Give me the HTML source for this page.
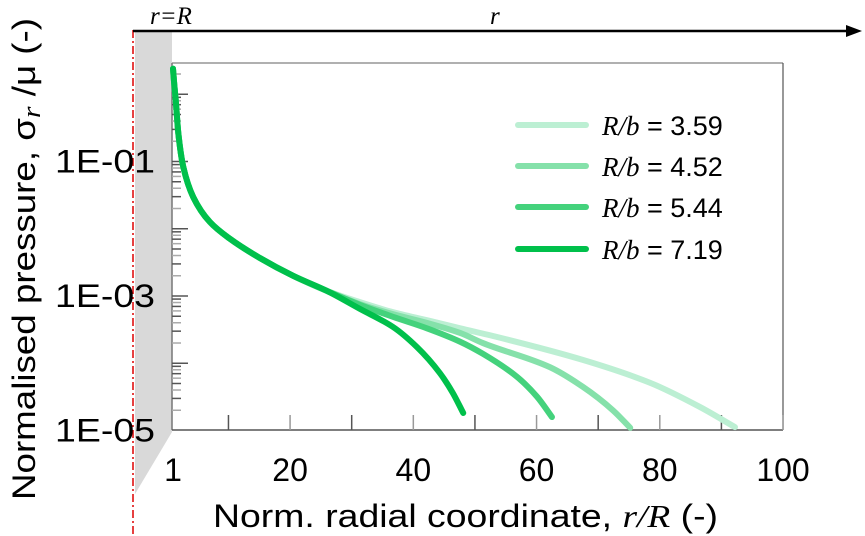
<!DOCTYPE html>
<html><head><meta charset="utf-8"><style>
html,body{margin:0;padding:0;background:#fff;}
svg{display:block;}
text{font-family:"Liberation Sans",sans-serif;fill:#000;}
.it{font-family:"Liberation Serif",serif;font-style:italic;}
</style></head><body>
<svg id="chart" width="865" height="536" viewBox="0 0 865 536">
  <polygon points="135,30 172,30 172,432 135,494" fill="#d9d9d9"/>
  <line x1="133" y1="30" x2="133" y2="536" stroke="#d00" stroke-width="1.5" stroke-dasharray="8,3,2,3"/>
  <line x1="133" y1="31" x2="850" y2="31" stroke="#000" stroke-width="2.5"/>
  <polygon points="862,31 846,25 846,37" fill="#000"/>
  <text x="150" y="24" class="it" font-size="25">r=R</text>
  <text x="490" y="24" class="it" font-size="25">r</text>
  <line x1="172" y1="63" x2="783" y2="63" stroke="#b0b0b0" stroke-width="2"/>
  <line x1="783" y1="63" x2="783" y2="430" stroke="#555" stroke-width="1.2"/>
  <line x1="172" y1="63" x2="172" y2="430" stroke="#777" stroke-width="1.5"/>
  <line x1="172" y1="430" x2="783" y2="430" stroke="#555" stroke-width="1.5"/>
  <g id="ticks"></g>
  <g id="series"></g>
  <g>
    <line x1="518" y1="125" x2="586" y2="125" stroke="#bcefd3" stroke-width="6" stroke-linecap="round"/>
    <text x="602" y="135" font-size="27"><tspan class="it">R/b</tspan> = 3.59</text>
    <line x1="518" y1="166" x2="586" y2="166" stroke="#85e1aa" stroke-width="6" stroke-linecap="round"/>
    <text x="602" y="176" font-size="27"><tspan class="it">R/b</tspan> = 4.52</text>
    <line x1="518" y1="207" x2="586" y2="207" stroke="#44d27c" stroke-width="6" stroke-linecap="round"/>
    <text x="602" y="217" font-size="27"><tspan class="it">R/b</tspan> = 5.44</text>
    <line x1="518" y1="249" x2="586" y2="249" stroke="#00c04b" stroke-width="6" stroke-linecap="round"/>
    <text x="602" y="259" font-size="27"><tspan class="it">R/b</tspan> = 7.19</text>
  </g>
  <text x="213" y="527" font-size="32" textLength="505" lengthAdjust="spacingAndGlyphs">Norm. radial coordinate, <tspan class="it">r/R</tspan> (-)</text>
  <text transform="translate(35,500) rotate(-90)" font-size="32" textLength="482" lengthAdjust="spacingAndGlyphs">Normalised pressure, σ<tspan class="it" font-size="26" dy="5">r</tspan><tspan dy="-5"> /μ (-)</tspan></text>
</svg>
<script>
const xTicks=[1,20,40,60,80,100];
const yTickLabels=["1E-01","1E-03","1E-05"];
const yTickValues=[1e-1,1e-3,1e-5];
const seriesNames=["3.59","4.52","5.44","7.19"];
const seriesColors=["#bcefd3","#85e1aa","#44d27c","#00c04b"];
// log10 of normalised pressure
const commonR=[1,1.2,1.44,1.86,2.67,4.29,6.99,10.25,15.1,20.5,26.0];
const commonLog=[0.38,0.15,-0.085,-0.576,-1.08,-1.53,-1.90,-2.15,-2.435,-2.70,-2.925];
const r359=[31.3,36.7,42.2,47.6,53.6,67.5,78.4,86.5,92.2];
const log359=[-3.09,-3.24,-3.36,-3.48,-3.61,-3.95,-4.29,-4.65,-4.95];
const r452=[31.3,36.7,42.2,47.6,51.3,62.2,67.5,72.4,75.2];
const log452=[-3.12,-3.27,-3.40,-3.55,-3.70,-4.06,-4.35,-4.70,-4.96];
const r544=[31.3,36.7,42.2,47.6,51.3,56.8,60.1,62.5];
const log544=[-3.13,-3.31,-3.48,-3.68,-3.86,-4.20,-4.50,-4.80];
const r719=[31.3,36.7,40.6,44.3,46.4,48.1];
const log719=[-3.19,-3.46,-3.76,-4.145,-4.44,-4.74];

const NS="http://www.w3.org/2000/svg";
function xs(r){return 173+(r-1)*6.162;}
function ysl(l){return 296-(l+3)*67.25;}
function ys(v){return ysl(Math.log10(v));}
const tg=document.getElementById('ticks');
function ln(x1,y1,x2,y2,c,w){const l=document.createElementNS(NS,'line');l.setAttribute('x1',x1);l.setAttribute('y1',y1);l.setAttribute('x2',x2);l.setAttribute('y2',y2);l.setAttribute('stroke',c);l.setAttribute('stroke-width',w);return l;}
for(let r=10;r<=100;r+=10){
  const t=ln(xs(r),430,xs(r),415,(r%20==0)?'#999':'#555',1.5);
  
  
  tg.appendChild(t);
}
xTicks.forEach(v=>{
  const t=document.createElementNS(NS,'text');
  t.setAttribute('x',xs(v));t.setAttribute('y',481);t.setAttribute('font-size','32');t.setAttribute('text-anchor','middle');
  t.textContent=v;
  
  
  tg.appendChild(t);
});
for(let d=-5;d<=0;d++){
  for(let m=1;m<10;m++){
    const v=m*Math.pow(10,d);const y=ys(v);
    if(y<63||y>430)continue;
    const t=ln(172,y,m==1?188:181,y,(m%2)?'#555':'#aaa',1.5);
    
    
    tg.appendChild(t);
  }
}
yTickValues.forEach((v,i)=>{
  const t=document.createElementNS(NS,'text');
  t.setAttribute('x',155);t.setAttribute('y',ys(v)+11);t.setAttribute('font-size','32');t.setAttribute('text-anchor','end');
  t.setAttribute('textLength','100');t.setAttribute('lengthAdjust','spacingAndGlyphs');
  t.textContent=yTickLabels[i];
  
  
  tg.appendChild(t);
});
// Fritsch-Carlson monotone cubic y(x)
function path(pts){
  const n=pts.length,dx=[],m=[],t=[];
  for(let i=0;i<n-1;i++){dx.push(pts[i+1][0]-pts[i][0]);m.push((pts[i+1][1]-pts[i][1])/dx[i]);}
  t[0]=m[0];t[n-1]=m[n-2];
  for(let i=1;i<n-1;i++){
    if(m[i-1]*m[i]<=0)t[i]=0;
    else{const w1=2*dx[i]+dx[i-1],w2=dx[i]+2*dx[i-1];t[i]=(w1+w2)/(w1/m[i-1]+w2/m[i]);}
  }
  let d='M'+pts[0][0].toFixed(2)+','+pts[0][1].toFixed(2);
  for(let i=0;i<n-1;i++){
    const h=dx[i]/3,p1=pts[i],p2=pts[i+1];
    d+=' C'+(p1[0]+h).toFixed(2)+','+(p1[1]+t[i]*h).toFixed(2)+' '+(p2[0]-h).toFixed(2)+','+(p2[1]-t[i+1]*h).toFixed(2)+' '+p2[0].toFixed(2)+','+p2[1].toFixed(2);
  }
  return d;
}
const sg=document.getElementById('series');
const allR=[r359,r452,r544,r719],allL=[log359,log452,log544,log719];
allR.forEach((rr,i)=>{
  const R=commonR.concat(rr),Lg=commonLog.concat(allL[i]);
  const pts=R.map((r,j)=>[xs(r),ysl(Lg[j])]);
  const p=document.createElementNS(NS,'path');
  p.setAttribute('d',path(pts));p.setAttribute('fill','none');p.setAttribute('stroke',seriesColors[i]);
  p.setAttribute('stroke-width','6');p.setAttribute('stroke-linecap','round');p.setAttribute('stroke-linejoin','round');
  
  
  sg.appendChild(p);
});
</script>
</body></html>
